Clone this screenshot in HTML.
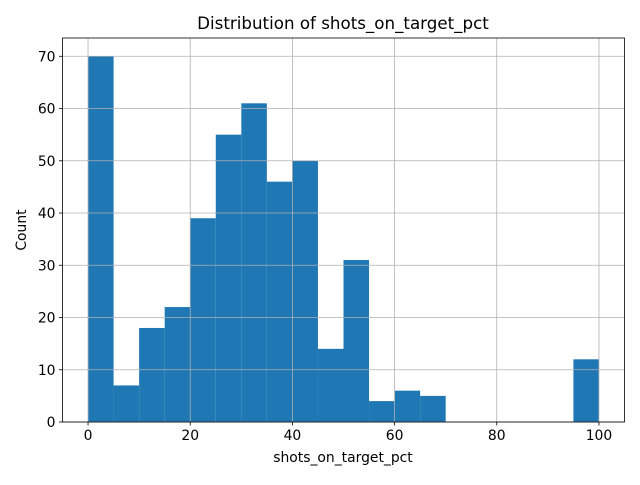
<!DOCTYPE html>
<html><head><meta charset="utf-8"><style>
body{margin:0;background:#fff;}
svg text{font-family:"DejaVu Sans","Liberation Sans",sans-serif;fill:#000;}
</style></head><body>
<svg id="chart" width="640" height="480" xmlns="http://www.w3.org/2000/svg">
<rect width="640" height="480" fill="#fff"/>
<g id="bars"></g><g id="grid"></g><g id="axes"></g>
<text x="343" y="29" font-size="16.7" text-anchor="middle">Distribution of shots_on_target_pct</text>
<text x="343" y="462" font-size="13.9" text-anchor="middle">shots_on_target_pct</text>
<text x="26" y="230" font-size="13.9" text-anchor="middle" transform="rotate(-90 26 230)">Count</text>
</svg>
<script>
const binEdges=[0,5,10,15,20,25,30,35,40,45,50,55,60,65,70,75,80,85,90,95,100];
const counts=[70,7,18,22,39,55,61,46,50,14,31,4,6,5,0,0,0,0,0,12];
const xTicks=[0,20,40,60,80,100];
const yTicks=[0,10,20,30,40,50,60,70];
const L=62.5,R=624.5,T=38,B=422,xmin=-5,xmax=105,ymin=0,ymax=73.5;
const ns="http://www.w3.org/2000/svg";
function X(v){return L+(v-xmin)/(xmax-xmin)*(R-L);}
function Y(v){return B-(v-ymin)/(ymax-ymin)*(B-T);}
function mk(t,a,p){const e=document.createElementNS(ns,t);for(const k in a)e.setAttribute(k,a[k]);p.appendChild(e);return e;}
const bars=document.getElementById('bars'),grid=document.getElementById('grid'),axes=document.getElementById('axes');
counts.forEach((c,i)=>{if(c<=0)return;
const r=mk('rect',{x:X(binEdges[i]),y:Y(c),width:X(binEdges[i+1])-X(binEdges[i]),height:Y(0)-Y(c),fill:'#1f77b4'},bars);

});
xTicks.forEach(v=>{const x=X(v);
const g=mk('line',{x1:x,x2:x,y1:T,y2:B,stroke:'#b0b0b0','stroke-width':0.8},grid);


mk('line',{x1:x,x2:x,y1:B,y2:B+3.5,stroke:'#000','stroke-width':0.8},axes);
const t=mk('text',{x:x,y:B+18,'font-size':13.9,'text-anchor':'middle'},axes);t.textContent=v;

});
yTicks.forEach(v=>{const y=Y(v);
const g=mk('line',{x1:L,x2:R,y1:y,y2:y,stroke:'#b0b0b0','stroke-width':0.8},grid);


mk('line',{x1:L-3.5,x2:L,y1:y,y2:y,stroke:'#000','stroke-width':0.8},axes);
const t=mk('text',{x:L-7,y:y+5,'font-size':13.9,'text-anchor':'end'},axes);t.textContent=v;

});
const f=mk('rect',{x:L,y:T,width:R-L,height:B-T,fill:'none',stroke:'#000','stroke-width':0.8},axes);


</script>
</body></html>
